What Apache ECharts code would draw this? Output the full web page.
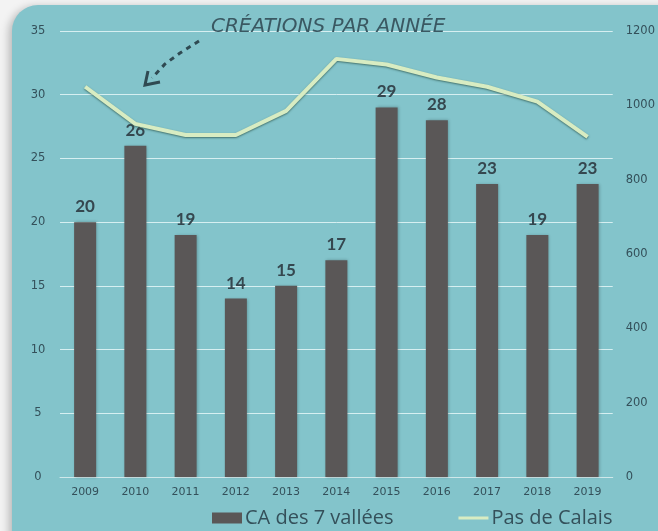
<!DOCTYPE html>
<html><head><meta charset="utf-8">
<script src="https://cdn.jsdelivr.net/npm/echarts@6/dist/echarts.min.js"></script>
<style>
html,body{margin:0;padding:0;width:658px;height:531px;overflow:hidden;background:#f3f3f3;}
#panel{position:absolute;left:12px;top:5px;width:680px;height:560px;background:#83c4cb;border-radius:26px;box-shadow:-3px 2px 8px rgba(0,0,0,0.25);}
#chart{position:absolute;left:0;top:0;width:658px;height:531px;}
</style></head>
<body><div id="panel"></div><div id="chart"></div>
<script>
const years = ['2009','2010','2011','2012','2013','2014','2015','2016','2017','2018','2019'];
const caValues = [20,26,19,14,15,17,29,28,23,19,23];
const pdcValues = [1050,950,920,920,985,1125,1110,1075,1050,1010,915];
const leftTicks = [0,5,10,15,20,25,30,35];
const rightTicks = [0,200,400,600,800,1000,1200];
const titleText = 'CRÉATIONS PAR ANNÉE';

const txt = '#34505a';
const axFont = 'DejaVu Sans';
const chart = echarts.init(document.getElementById('chart'), null, {renderer:'canvas'});
chart.setOption({
  backgroundColor:'transparent',
  animation:false,
  grid:{left:60,right:43,top:31,bottom:54},
  title:{text:titleText,left:206,top:12,textStyle:{color:'#3a5862',fontSize:20,fontStyle:'italic',fontWeight:'normal',fontFamily:'DejaVu Sans'}},
  legend:{top:508,left:212,padding:0,itemGap:65,itemWidth:30,itemHeight:11,
    textStyle:{color:'#34505a',fontSize:20,fontFamily:'Open Sans',padding:[0,0,0,-2]},
    data:[{name:'CA des 7 vallées',icon:'rect'},
          {name:'Pas de Calais',icon:'path://M0,0 M0,4 L30,4 L30,7 L0,7 Z M30,11',itemStyle:{color:'#d8ecc2'}}]},
  xAxis:{type:'category',data:years,
    axisLine:{lineStyle:{color:'#cfe8ea',width:1}},axisTick:{show:false},
    axisLabel:{color:txt,fontSize:11,fontFamily:axFont,margin:10}},
  yAxis:[
    {type:'value',min:leftTicks[0],max:leftTicks[leftTicks.length-1],interval:5,
     axisLabel:{color:txt,fontSize:11.5,fontFamily:axFont,align:'center',margin:22},
     splitLine:{lineStyle:{color:'rgba(235,250,250,0.8)',width:1}},axisLine:{show:false},axisTick:{show:false}},
    {type:'value',min:rightTicks[0],max:rightTicks[rightTicks.length-1],interval:200,position:'right',
     axisLabel:{color:txt,fontSize:11.5,fontFamily:axFont,align:'left',margin:13,formatter:v=>String(v)},
     splitLine:{show:false},axisLine:{show:false},axisTick:{show:false}}
  ],
  series:[
    {name:'CA des 7 vallées',type:'bar',data:caValues,barWidth:22,yAxisIndex:0,
     itemStyle:{color:'#5a5757',shadowColor:'rgba(0,0,0,0.25)',shadowBlur:3,shadowOffsetX:1},
     label:{show:true,position:'top',distance:7,color:'#35474f',fontSize:17,fontWeight:'bold',fontFamily:'Lato'}},
    {name:'Pas de Calais',type:'line',data:pdcValues,yAxisIndex:1,symbol:'none',z:5,
     lineStyle:{color:'#d8ecc2',width:4,shadowColor:'rgba(40,80,70,0.7)',shadowBlur:2,shadowOffsetY:1},
     itemStyle:{color:'#d8ecc2'}}
  ],
  graphic:[
    {type:'polyline',shape:{points:[[199,41],[180,53],[165,64],[152,78]]},
     style:{stroke:'#2f4a52',lineWidth:3,lineDash:[5,5],fill:null}},
    {type:'polyline',shape:{points:[[148,71],[145,85],[160,82]]},
     style:{stroke:'#2f4a52',lineWidth:3,fill:null,lineJoin:'miter'}}
  ]
});
</script></body></html>
